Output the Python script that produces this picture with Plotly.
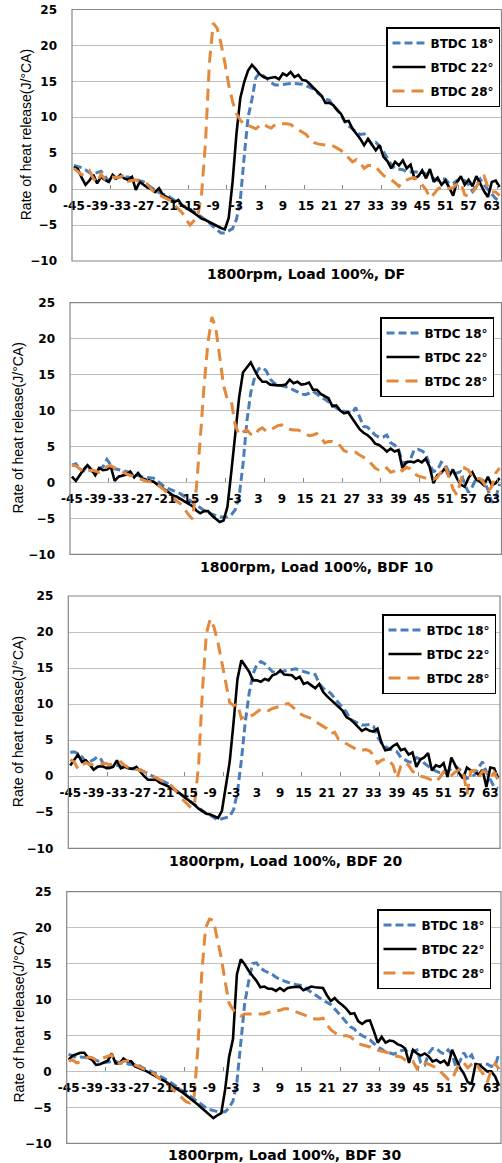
import plotly.graph_objects as go

# ---------------- data (crank angle, deg) ----------------
angle = list(range(-45, 66))

df_18 = [3.3, 3.2, 3.0, 2.7, 2.3, 2.1, 2.3, 2.5, 1.8, 1.1,
         1.3, 1.6, 1.7, 1.7, 1.7, 1.5, 1.3, 1.2, 1.0, 0.6,
         0.2, -0.2, -0.5, -0.7, -0.8, -1.2, -1.6, -1.9, -2.2, -2.5,
         -2.7, -3.1, -3.5, -3.9, -4.2, -4.7, -5.2, -5.7, -6.1, -6.1,
         -5.8, -5.5, -4.2, -1.5, 4.5, 10.0, 12.5, 15.5, 16.2, 15.8,
         15.3, 14.8, 14.5, 14.5, 14.6, 14.7, 14.7, 14.7, 14.7, 14.6,
         14.4, 14.2, 13.9, 13.4, 12.9, 12.5, 12.4, 11.6, 11.1, 10.4,
         9.4, 8.8, 8.4, 7.9, 7.6, 7.7, 7.0, 6.2, 6.5, 6.0,
         5.2, 4.3, 3.4, 2.9, 2.8, 2.7, 2.4, 2.4, 2.4, 2.4,
         2.4, 2.1, 1.8, 1.4, 1.2, 1.5, 1.4, 0.8, 0.8, 1.2,
         1.4, 1.2, 0.6, -0.3, 0.6, 1.4, 0.6, -0.1, -0.7, -1.3, -1.7]
df_22 = [3.1, 2.8, 1.6, 0.6, 1.2, 2.0, 0.8, 1.7, 1.3, 1.0,
         2.0, 1.5, 2.0, 1.5, 1.3, 1.7, -0.1, 1.0, 0.6, 0.2,
         0.0, -0.4, 0.1, -0.8, -1.1, -1.5, -1.8, -1.5, -2.3, -2.6,
         -2.9, -3.3, -3.7, -4.1, -4.3, -4.6, -4.9, -5.1, -5.4, -5.6,
         -4.0, 1.0, 7.7, 12.7, 14.9, 16.5, 17.3, 16.7, 16.0, 15.6,
         15.4, 15.5, 15.6, 15.3, 16.1, 15.8, 16.3, 15.6, 15.9, 15.2,
         15.1, 14.6, 14.1, 13.5, 13.0, 12.0, 12.0, 11.7, 11.0, 10.5,
         9.4, 9.5, 8.4, 7.7, 7.0, 6.1, 7.0, 6.2, 5.4, 6.1,
         4.5, 3.9, 2.9, 3.8, 3.3, 4.0, 2.9, 3.4, 1.5, 1.8,
         2.6, 1.5, 2.8, 1.0, 1.6, 0.6, 1.2, 0.2, -0.9, 1.0,
         1.8, 0.6, 1.3, 0.4, 1.8, 0.8, -0.3, -1.1, 1.0, 1.2, 0.3]
df_28 = [2.9, 2.4, 2.0, 2.2, 2.6, 1.5, 0.9, 2.1, 1.4, 1.5,
         1.7, 1.6, 1.8, 1.9, 1.1, 1.2, 1.3, 1.1, 1.0, 0.7,
         0.0, -0.5, -0.8, -1.1, -1.3, -1.6, -2.2, -2.8, -3.3, -4.2,
         -5.0, -4.4, -3.8, -0.6, 6.5, 17.5, 23.1, 22.4, 20.3, 17.6,
         14.5, 12.2, 10.5, 9.6, 9.0, 8.9, 8.7, 8.4, 8.8, 9.1,
         8.7, 8.5, 9.0, 9.1, 9.1, 9.1, 9.0, 8.6, 8.3, 8.0,
         7.6, 7.0, 6.5, 6.3, 6.2, 6.1, 6.1, 6.0, 5.7, 5.4,
         4.9, 4.4, 3.8, 4.1, 3.6, 2.9, 3.3, 3.3, 3.1, 2.5,
         1.9, 1.5, 1.3, 0.9, 0.4, 1.0, 1.3, 1.5, 1.6, 1.2,
         0.6, -0.1, -1.2, -0.7, 0.0, 0.3, 0.3, 0.1, 0.2, 0.7,
         0.9, -0.8, -1.0, -0.5, 0.3, 1.4, 1.8, 0.3, -0.4, -0.4, -0.9]

bdf10_18 = [2.4, 2.6, 1.8, 1.6, 2.4, 1.6, 1.6, 1.9, 2.2, 3.2,
            2.4, 1.9, 1.8, 1.7, 1.6, 1.4, 1.1, 0.9, 0.8, 0.7,
            0.6, 0.6, 0.2, -0.2, -0.7, -0.9, -1.1, -1.3, -1.6, -2.0,
            -2.4, -2.8, -3.2, -3.6, -3.9, -4.2, -4.4, -4.6, -4.8, -4.8,
            -4.8, -4.5, -3.8, -2.0, 2.5, 8.5, 12.5, 14.6, 15.8, 16.0,
            15.5, 14.4, 13.8, 13.6, 13.5, 13.3, 13.1, 12.9, 12.6, 12.3,
            12.2, 12.4, 12.7, 12.3, 11.8, 11.6, 11.2, 10.7, 10.4, 10.0,
            9.9, 9.8, 9.6, 10.4, 9.0, 7.8, 7.7, 7.2, 6.6, 6.3,
            6.3, 6.6, 5.5, 5.2, 4.6, 2.8, 2.7, 3.1, 4.5, 4.6,
            4.4, 4.0, 2.4, 1.5, 1.7, 2.8, 2.5, 1.4, 1.2, 1.3,
            1.5, -0.2, -1.4, -0.6, 0.6, 0.5, 0.2, -1.0, -2.8, -2.2, -0.2]
bdf10_22 = [0.8, 0.2, 1.0, 1.8, 2.4, 1.8, 1.0, 2.0, 1.7, 1.8,
            2.2, 0.2, 0.8, 1.0, 1.1, 1.5, 0.7, 1.3, 0.6, 0.4,
            0.3, 0.1, -0.3, -0.7, -1.0, -1.4, -1.8, -2.0, -2.3, -2.7,
            -3.0, -3.3, -3.9, -4.3, -4.0, -4.0, -4.6, -5.1, -5.5, -5.3,
            -3.4, 1.5, 7.0, 11.8, 15.3, 16.0, 16.7, 15.6, 14.6, 14.0,
            14.0, 13.6, 13.5, 13.5, 13.5, 13.6, 14.3, 13.8, 14.0, 13.6,
            13.7, 13.9, 12.9, 12.9, 12.3, 12.0, 11.7, 10.6, 10.7, 10.0,
            9.6, 9.8, 8.9, 8.2, 7.4, 6.9, 6.6, 6.1, 5.4, 5.2,
            4.8, 4.3, 4.7, 4.3, 4.5, 2.0, 2.8, 2.9, 2.8, 3.1,
            2.8, 3.3, 2.2, -0.1, 1.0, 1.3, 2.0, 0.8, 1.8, 0.6,
            -0.3, -0.6, 0.6, 1.4, 0.4, 0.1, -0.4, 0.8, -0.4, -0.1, 0.6]
bdf10_28 = [2.4, 2.3, 1.9, 1.4, 1.6, 1.7, 1.6, 1.4, 1.6, 2.2,
            2.3, 2.0, 1.7, 1.5, 1.2, 1.0, 0.8, 0.6, 0.3, 0.2,
            0.1, 0.0, -0.3, -0.7, -1.2, -1.6, -2.2, -2.6, -3.0, -3.7,
            -4.5, -5.1, -0.8, 6.0, 13.5, 19.5, 23.0, 21.5, 17.5, 13.5,
            11.5, 11.3, 8.0, 6.6, 7.0, 7.3, 6.7, 6.5, 7.3, 7.6,
            7.1, 7.2, 7.6, 7.9, 8.0, 7.7, 7.4, 7.3, 7.3, 7.1,
            6.8, 6.5, 6.6, 6.8, 6.3, 5.5, 5.7, 5.7, 5.5, 5.1,
            4.4, 4.2, 4.2, 4.2, 3.8, 3.5, 3.2, 2.6, 2.0, 1.7,
            1.6, 2.0, 1.4, 1.6, 2.0, 1.6, 2.1, 1.9, 1.3, 0.9,
            0.7, 0.6, 0.5, 0.4, 0.7, 1.6, 2.3, 0.8, -0.9, -1.7,
            0.1, 2.0, 1.7, 0.8, 0.5, 0.5, -0.1, -1.3, -0.6, 1.3, 2.0]

bdf20_18 = [3.3, 3.4, 3.1, 2.7, 2.0, 2.0, 2.3, 2.7, 2.3, 1.0,
            1.3, 1.6, 1.5, 1.3, 1.2, 1.1, 1.1, 1.0, 0.9, 0.6,
            0.3, 0.0, -0.2, -0.5, -0.7, -1.0, -1.5, -1.9, -2.3, -2.7,
            -3.1, -3.5, -4.0, -4.4, -4.8, -5.2, -5.4, -5.7, -6.1, -5.9,
            -5.7, -5.6, -4.6, -2.2, 2.2, 7.5, 11.5, 14.2, 15.5, 15.9,
            15.6, 15.0, 14.5, 14.4, 14.5, 14.7, 14.7, 14.8, 14.9, 14.7,
            14.5, 14.3, 14.2, 14.1, 12.9, 12.2, 11.9, 11.5, 10.8, 10.2,
            9.6, 8.9, 7.9, 7.6, 7.3, 7.1, 7.1, 7.2, 6.9, 5.5,
            4.6, 4.1, 3.8, 3.6, 3.4, 2.6, 2.3, 2.0, 1.9, 2.6,
            2.4, 1.8, 1.4, 1.0, 0.7, 0.5, 0.5, 0.7, 1.0, 1.4,
            1.0, 0.3, -0.3, -0.1, 0.2, 1.2, 2.0, 0.6, -0.5, -1.5, -1.7]
bdf20_22 = [1.5, 2.2, 3.0, 2.0, 2.2, 1.6, 0.9, 1.3, 1.4, 1.2,
            1.1, 1.3, 2.2, 1.1, 1.3, 1.1, 1.0, 1.3, 0.6, 0.0,
            -0.5, -0.5, -0.5, -0.9, -1.1, -1.3, -1.6, -1.9, -2.3, -2.7,
            -3.1, -3.5, -4.0, -4.5, -4.9, -5.2, -5.3, -5.5, -5.8, -4.8,
            -1.5, 2.0, 7.5, 13.5, 16.1, 15.3, 14.5, 13.3, 13.3, 13.1,
            13.5, 13.3, 14.0, 14.2, 14.7, 14.1, 14.0, 14.0, 13.5, 13.8,
            12.8, 13.0, 12.6, 12.2, 12.8, 11.7, 11.1, 10.6, 10.2, 9.6,
            9.1, 8.2, 7.9, 7.4, 6.8, 6.3, 6.6, 6.3, 6.2, 6.6,
            4.7, 3.6, 3.7, 4.2, 4.5, 3.6, 3.8, 3.0, 3.3, 1.3,
            2.3, 2.6, 3.2, 0.8, 1.5, 1.3, 1.8, -0.1, 2.6, 1.4,
            0.4, -0.3, 1.2, 0.8, 0.7, 0.2, 0.9, -1.5, 1.2, 1.1, -0.2]
bdf20_28 = [2.3, 2.0, 1.0, 1.4, 1.9, 1.6, 1.6, 1.6, 1.7, 1.8,
            1.6, 1.7, 1.8, 2.0, 1.5, 1.2, 1.1, 1.0, 0.8, 0.6,
            0.4, 0.1, -0.2, -0.5, -0.8, -1.0, -1.3, -1.9, -2.6, -3.3,
            -3.8, -4.4, -3.6, 1.5, 12.0, 19.8, 21.8, 20.6, 18.5, 15.7,
            12.5, 10.2, 9.8, 10.0, 8.0, 8.3, 8.3, 8.5, 8.9, 9.3,
            9.3, 9.1, 9.4, 9.5, 9.7, 9.9, 10.1, 9.7, 9.2, 8.7,
            8.4, 8.2, 8.0, 7.6, 7.3, 6.9, 6.6, 5.9, 6.1, 5.1,
            4.8, 4.4, 4.1, 3.8, 3.6, 3.6, 3.7, 3.5, 2.9, 1.8,
            2.2, 2.4, 2.2, 1.5, -0.3, 1.4, 1.9, 1.5, 0.7, 0.3,
            0.0, -0.1, -0.3, -0.5, -0.8, -0.2, 0.6, 0.0, 0.1, 0.6,
            0.9, 0.9, -2.5, 0.7, 0.8, -0.2, 0.7, 0.5, -0.2, 0.5, -0.5]

bdf30_18 = [2.4, 2.1, 1.9, 2.0, 2.0, 1.9, 1.7, 1.5, 1.3, 1.2,
            1.3, 1.4, 1.4, 1.2, 1.1, 1.1, 1.0, 0.9, 0.8, 0.5,
            0.2, 0.0, -0.2, -0.5, -0.8, -1.1, -1.5, -1.9, -2.3, -2.7,
            -3.1, -3.5, -3.9, -4.3, -4.6, -5.0, -5.3, -5.5, -5.6, -5.6,
            -5.6, -5.1, -4.1, -1.5, 4.0, 9.5, 12.5, 15.0, 15.1, 14.4,
            14.0, 13.8, 13.5, 13.1, 12.8, 12.6, 12.4, 12.2, 12.1, 12.0,
            11.9, 11.4, 11.0, 10.6, 10.3, 9.9, 9.6, 9.3, 8.7, 8.1,
            7.4, 6.8, 6.2, 5.9, 5.3, 5.0, 4.7, 4.4, 3.9, 3.4,
            3.1, 2.7, 2.6, 2.4, 2.6, 2.9, 3.0, 2.6, 2.8, 3.0,
            1.2, 0.9, 2.5, 3.2, 3.2, 2.7, 2.4, 3.0, 2.3, 0.6,
            1.4, 2.6, 1.7, 2.3, 1.0, 0.9, 1.1, 1.0, 0.7, 0.8, 2.5]
bdf30_22 = [1.6, 2.2, 2.4, 2.6, 2.6, 1.9, 1.6, 0.9, 1.0, 1.2,
            1.5, 2.5, 1.1, 1.1, 1.8, 1.4, 1.4, 0.7, 0.5, 0.3,
            0.0, -0.3, -0.6, -0.8, -1.1, -1.5, -1.9, -2.2, -2.5, -2.9,
            -3.3, -3.7, -4.1, -4.6, -5.1, -5.6, -6.0, -6.5, -6.1, -5.8,
            -2.5, 2.0, 4.5, 13.5, 15.6, 14.9, 14.0, 13.3, 12.6, 11.7,
            11.8, 11.5, 11.5, 11.2, 11.6, 11.2, 11.6, 11.7, 11.7, 11.8,
            11.3, 11.5, 11.8, 11.7, 11.7, 11.6, 10.6, 9.8, 10.2, 9.6,
            9.2, 8.7, 8.0, 8.1, 7.0, 6.6, 7.0, 7.1, 5.6, 4.0,
            4.8, 4.0, 4.3, 4.2, 3.8, 3.6, 3.2, 1.2, 3.0, 2.5,
            2.2, 2.5, 2.1, 1.4, 1.6, 1.2, 1.5, 0.8, 3.0, 1.7,
            0.5, -0.3, -1.5, -1.7, 1.0, 0.9, 0.4, 0.0, 0.0, -0.7, -2.0]
bdf30_28 = [1.5, 1.6, 1.2, 1.3, 1.7, 2.0, 1.9, 1.6, 1.7, 1.9,
            2.1, 2.3, 1.5, 1.1, 1.4, 1.5, 1.5, 0.9, 0.6, 0.4,
            0.1, -0.1, -0.4, -0.9, -1.3, -1.7, -2.1, -2.7, -3.2, -3.8,
            -4.2, -4.4, -3.9, 3.0, 13.5, 20.0, 21.2, 21.0, 18.5, 15.8,
            12.5, 9.5, 8.6, 8.2, 7.7, 8.0, 8.0, 7.9, 7.9, 7.9,
            8.0, 8.2, 8.3, 8.3, 8.5, 8.7, 8.7, 8.5, 8.3, 8.2,
            7.9, 7.7, 7.6, 7.3, 7.3, 7.4, 6.5, 5.8, 5.4, 5.0,
            4.9, 5.0, 4.8, 4.3, 3.9, 3.7, 3.6, 3.4, 3.1, 3.0,
            2.8, 2.7, 2.5, 2.2, 2.1, 2.0, 1.6, 1.3, 1.4, 0.4,
            1.2, 1.2, 1.0, 0.8, 0.5, 0.0, -0.5, -1.1, -1.2, 0.2,
            1.2, 1.2, 0.5, 1.0, 1.3, 0.3, -0.4, -1.5, 0.2, 1.1, 0.3]

series_names = ["BTDC 18°", "BTDC 22°", "BTDC 28°"]
panel_titles = ["1800rpm, Load 100%, DF", "1800rpm, Load 100%, BDF 10",
                "1800rpm, Load 100%, BDF 20", "1800rpm, Load 100%, BDF 30"]
panel_data = [(df_18, df_22, df_28), (bdf10_18, bdf10_22, bdf10_28),
              (bdf20_18, bdf20_22, bdf20_28), (bdf30_18, bdf30_22, bdf30_28)]
xtick_vals = list(range(-45, 64, 6))
xtick_text = [str(v) for v in xtick_vals]
ytick_vals = list(range(-10, 26, 5))
y_title = "Rate of heat release(J/°CA)"

# ---------------- styling / layout (pixels) ----------------
W, H = 502, 1163
layout_px = [
    dict(left=72.0, right=501.5, top=9.5, bottom=261.0, title_x=306, title_y=274, ytitle_x=26, leg_x=386, leg_y=27),
    dict(left=70.0, right=501.5, top=302.7, bottom=554.3, title_x=316, title_y=567, ytitle_x=17, leg_x=380, leg_y=317),
    dict(left=68.3, right=500.0, top=596.0, bottom=848.3, title_x=285, title_y=861, ytitle_x=18, leg_x=382, leg_y=614),
    dict(left=66.7, right=501.0, top=891.7, bottom=1143.3, title_x=284, title_y=1155, ytitle_x=19, leg_x=377, leg_y=909),
]
line_styles = [
    dict(color="#4A7EBB", width=3, dash="8px,4px"),
    dict(color="#000000", width=2.6),
    dict(color="#E4883C", width=3, dash="12px,7px"),
]
BOLD = dict(family="DejaVu Sans", size=12, color="#000000", weight="bold")
GRID = "#C0C0C0"
FRAME = "#868686"
YMIN, YMAX = -10, 25
XMIN, XMAX = -45.5, 65.5

fig = go.Figure()
layout = dict(width=W, height=H, margin=dict(l=0, r=0, t=0, b=0, autoexpand=False),
              paper_bgcolor="white", plot_bgcolor="white",
              showlegend=True, shapes=[], annotations=[])

for i, (px, data) in enumerate(zip(layout_px, panel_data)):
    n = "" if i == 0 else str(i + 1)
    leg = "legend" if i == 0 else f"legend{i + 1}"
    for j, (vals, name) in enumerate(zip(data, series_names)):
        fig.add_trace(go.Scatter(
            x=angle, y=vals, mode="lines", name=name,
            line=line_styles[j], xaxis="x" + n, yaxis="y" + n,
            legend=leg, legendgroup=f"p{i}s{j}", hoverinfo="skip"))
    y0 = 1 - px["bottom"] / H
    y1 = 1 - px["top"] / H
    zero_pos = y0 + (y1 - y0) * (0 - YMIN) / (YMAX - YMIN)
    layout["xaxis" + n] = dict(
        domain=[px["left"] / W, px["right"] / W], anchor="free", position=zero_pos,
        range=[XMIN, XMAX], tickmode="array", tickvals=xtick_vals, ticktext=xtick_text,
        tickangle=0, ticks="", showgrid=False, zeroline=False, showline=False,
        tickfont=BOLD, ticklabelstandoff=8, automargin=False,
        minor=dict(tickvals=[v - 0.5 for v in range(-35, 66, 10)], ticks="inside",
                   ticklen=4, tickcolor=FRAME, tickwidth=1, showgrid=False),
        fixedrange=True)
    layout["yaxis" + n] = dict(
        domain=[y0, y1], anchor="x" + n, range=[YMIN, YMAX],
        tickmode="array", tickvals=ytick_vals, ticks="", showgrid=True,
        gridcolor=GRID, gridwidth=1, zeroline=False, showline=False,
        tickfont=BOLD, ticklabelstandoff=14, automargin=False, fixedrange=True)
    layout["shapes"].append(dict(
        type="rect", xref=f"x{n} domain", yref=f"y{n} domain",
        x0=0, x1=1, y0=0, y1=1, line=dict(color=FRAME, width=1.2), layer="above"))
    layout["annotations"].append(dict(
        text=panel_titles[i], x=px["title_x"] / W, y=1 - px["title_y"] / H,
        xref="paper", yref="paper", xanchor="center", yanchor="middle",
        showarrow=False, font=dict(family="DejaVu Sans", size=14, color="#000000", weight="bold")))
    layout["annotations"].append(dict(
        text=y_title, x=px["ytitle_x"] / W, y=(y0 + y1) / 2,
        xref="paper", yref="paper", xanchor="center", yanchor="middle",
        textangle=-90, showarrow=False,
        font=dict(family="Liberation Sans", size=14, color="#000000")))
    layout[leg] = dict(
        x=px["leg_x"] / W, y=1 - px["leg_y"] / H, xanchor="left", yanchor="top",
        bgcolor="white", bordercolor="#000000", borderwidth=1.5,
        font=dict(family="DejaVu Sans", size=12, color="#000000", weight="bold"),
        tracegroupgap=5, traceorder="grouped", itemwidth=33)

fig.update_layout(**layout)
fig.write_html("out.html", config={"displayModeBar": False, "staticPlot": True},
               post_script="document.body.style.margin='0px';document.body.style.overflow='hidden';")
